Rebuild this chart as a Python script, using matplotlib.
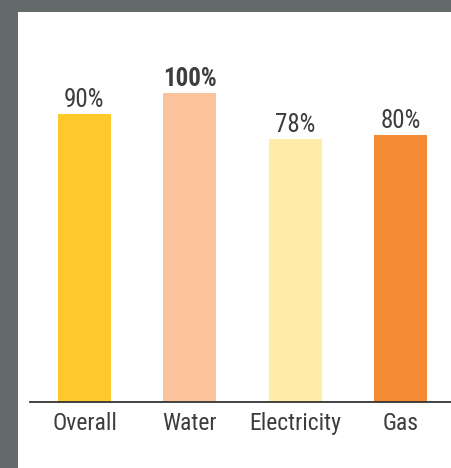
import matplotlib
matplotlib.use("Agg")
from matplotlib import pyplot as plt
import numpy as np

# data
categories = ["Overall", "Water", "Electricity", "Gas"]
values = [90, 100, 78, 80]
labels = ["90%", "100%", "78%", "80%"]
bold = [False, True, False, False]
colors = ["#FFC92B", "#FAC39B", "#FFECA9", "#F58A35"]

plt.rcParams['font.family'] = ['Roboto Condensed', 'DejaVu Sans']

W, H = 452, 468
fig = plt.figure(figsize=(W / 100, H / 100), dpi=100)
fig.patch.set_facecolor("#646A69")

# white panel
bg = fig.add_axes([18 / W, 0, 1 - 18 / W, 1 - 12 / H])
bg.set_facecolor("white")
bg.set_xticks([])
bg.set_yticks([])
for s in bg.spines.values():
    s.set_visible(False)

ymin = -47.8  # axis floor is not at zero in the original
ax = fig.add_axes([30 / W, 66 / H, 1 - 30 / W, (H - 66 - 12) / H])
ax.patch.set_alpha(0)
x = np.arange(len(categories))
vals = np.array(values)
ax.bar(x, vals - ymin, bottom=ymin, width=0.503, color=colors)

for xi, v, lab, b in zip(x, vals, labels, bold):
    ax.annotate(lab, (xi, v), xytext=(0, 5), textcoords="offset points",
                ha="center", va="baseline", fontsize=18, color="#3d3d3d",
                fontweight="bold" if b else "normal")

ax.set_xlim(-0.517, 3.489)
ax.set_ylim(ymin, ymin + 390 / 2.091)
ax.set_xticks(x)
ax.set_xticklabels(categories, fontsize=17, color="#3d3d3d")
ax.tick_params(axis="x", length=0, pad=7)
ax.set_yticks([])
for s in ["top", "left", "right"]:
    ax.spines[s].set_visible(False)
ax.spines["bottom"].set_color("#333333")
ax.spines["bottom"].set_linewidth(1.3)

fig.savefig("out.png", dpi=100)
